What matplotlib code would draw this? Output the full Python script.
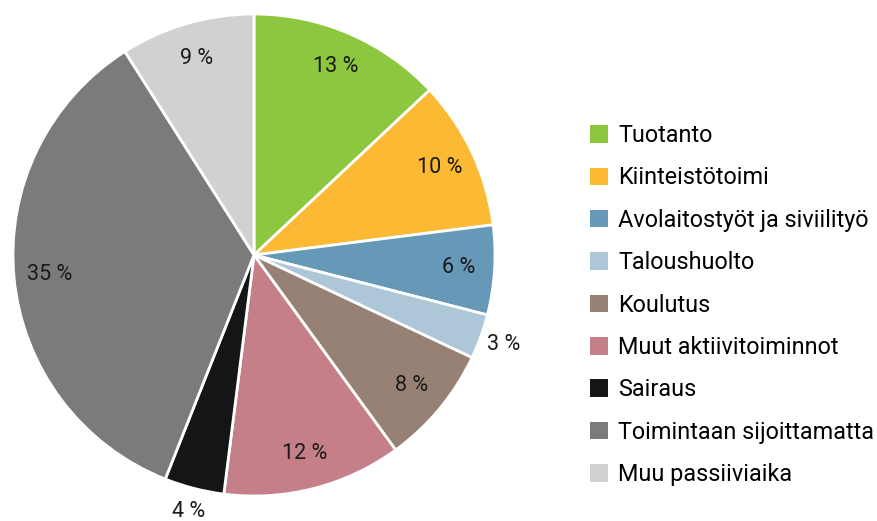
import numpy as np
import matplotlib.pyplot as plt
from matplotlib.patches import Patch

labels = ["Tuotanto", "Kiinteistötoimi", "Avolaitostyöt ja siviilityö", "Taloushuolto",
          "Koulutus", "Muut aktiivitoiminnot", "Sairaus", "Toimintaan sijoittamatta",
          "Muu passiiviaika"]
values = [13, 10, 6, 3, 8, 12, 4, 35, 9]
colors = ["#8dc63f", "#fbb934", "#6699b8", "#adc6d8", "#978174", "#c47f88",
          "#131517", "#7a7c7c", "#d0d2d2"]

plt.rcParams['font.family'] = ['Roboto', 'DejaVu Sans']

fig = plt.figure(figsize=(8.77, 5.21), dpi=100)
ax = fig.add_axes([13 / 877, 25 / 521, 482 / 877, 482 / 521])

wedges, _ = ax.pie(values, colors=colors, startangle=90, counterclock=False,
                   wedgeprops=dict(edgecolor="white", linewidth=2))

# prosenttiluvut: pienet siivut ulkopuolelle
for w, v in zip(wedges, values):
    ang = np.deg2rad((w.theta1 + w.theta2) / 2)
    d = 1.1 if v <= 4 else 0.85
    ax.text(d * np.cos(ang), d * np.sin(ang), f"{v} %", ha="center", va="center",
            fontsize=15.5, color="#1a1a1a")
ax.set_xlim(-1, 1)
ax.set_ylim(-1, 1)
ax.set_aspect("equal")

handles = [Patch(facecolor=c, edgecolor="none") for c in colors]
fig.legend(handles, labels, loc="center left", bbox_to_anchor=(590 / 877, 1 - 305 / 521),
           frameon=False, fontsize=16.8, handlelength=0.78, handleheight=0.78,
           handletextpad=0.42, labelspacing=0.83, borderpad=0, borderaxespad=0)

fig.savefig("out.png", dpi=100)
